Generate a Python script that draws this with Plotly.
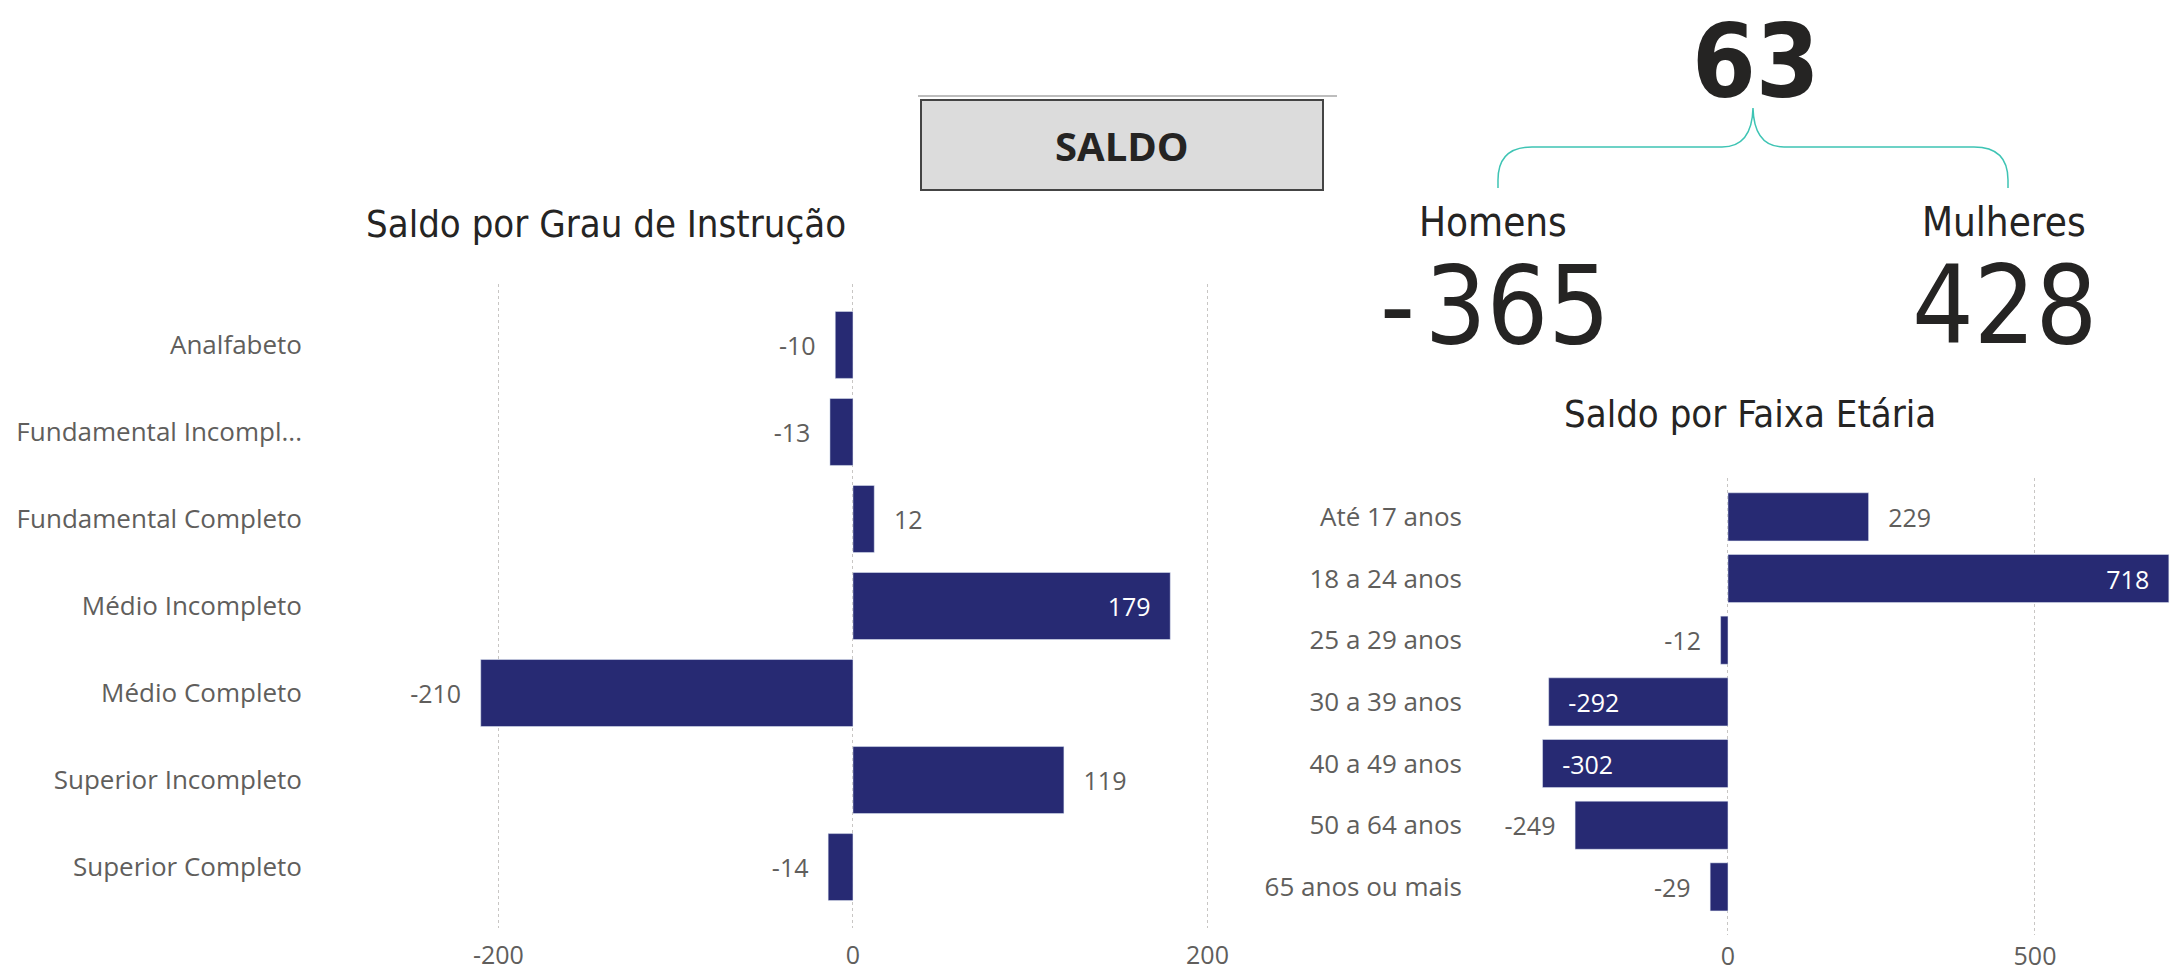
import plotly.graph_objects as go

W, H = 2171, 974

# ---- data ----
instr_cats = ["Analfabeto", "Fundamental Incompl...", "Fundamental Completo", "Médio Incompleto",
              "Médio Completo", "Superior Incompleto", "Superior Completo"]
instr_vals = [-10, -13, 12, 179, -210, 119, -14]
instr_textpos = ["outside", "outside", "outside", "inside", "outside", "outside", "outside"]
instr_tickvals = [-200, 0, 200]
instr_ticktext = ["-200", "0", "200"]

idade_cats = ["Até 17 anos", "18 a 24 anos", "25 a 29 anos", "30 a 39 anos",
              "40 a 49 anos", "50 a 64 anos", "65 anos ou mais"]
idade_vals = [229, 718, -12, -292, -302, -249, -29]
idade_textpos = ["outside", "inside", "outside", "inside", "inside", "outside", "outside"]
idade_tickvals = [0, 500]
idade_ticktext = ["0", "500"]

saldo_total = 63
saldo_homens = -365
saldo_mulheres = 428

BAR = "#272A73"
GRAY = "#605E5C"
DARK = "#252423"
TEAL = "#3EC4B4"
TITLE_FONT = "Liberation Sans Narrow, DejaVu Sans Condensed, Roboto, sans-serif"
BODY_FONT = "Segoe UI, Open Sans, sans-serif"
LBL = 25
CAT = 26


def px(x):
    return x / W


def py(y):
    return 1 - y / H


def label(v, pos):
    s = str(v)
    pad = "\u2002\u2009"
    if pos == "outside":
        return pad + s if v > 0 else s + pad
    return s + pad if v > 0 else pad + s


def big(v):
    s = str(v)
    return s.replace("-", "-\u200a")


fig = go.Figure()

fig.add_trace(go.Bar(
    x=instr_vals, y=instr_cats, orientation="h", marker_color=BAR, width=0.77,
    text=[label(v, p) for v, p in zip(instr_vals, instr_textpos)], textposition=instr_textpos,
    insidetextanchor="end",
    insidetextfont=dict(color="white", size=LBL, family=BODY_FONT),
    outsidetextfont=dict(color=GRAY, size=LBL, family=BODY_FONT),
    cliponaxis=False, xaxis="x", yaxis="y", hoverinfo="skip"))

fig.add_trace(go.Bar(
    x=idade_vals, y=idade_cats, orientation="h", marker_color=BAR, width=0.78,
    text=[label(v, p) for v, p in zip(idade_vals, idade_textpos)], textposition=idade_textpos,
    insidetextanchor="end",
    insidetextfont=dict(color="white", size=LBL, family=BODY_FONT),
    outsidetextfont=dict(color=GRAY, size=LBL, family=BODY_FONT),
    cliponaxis=False, xaxis="x2", yaxis="y2", hoverinfo="skip"))

axis_common = dict(showgrid=True, griddash="dot", gridcolor="#C8C6C4", gridwidth=1,
                   zeroline=False, showline=False, ticks="", tickmode="array",
                   tickfont=dict(color=GRAY, size=LBL, family=BODY_FONT))
cat_common = dict(type="category", automargin=False, showgrid=False, zeroline=False,
                  ticks="", ticklabelstandoff=12,
                  tickfont=dict(color=GRAY, size=CAT, family=BODY_FONT))

fig.update_layout(
    width=W, height=H, margin=dict(l=0, r=0, t=0, b=0),
    paper_bgcolor="white", plot_bgcolor="white", showlegend=False,
    xaxis=dict(domain=[px(315), px(1230)], range=[-303.5, 212.7],
               tickvals=instr_tickvals, ticktext=instr_ticktext,
               anchor="y", automargin=False, ticklabelstandoff=10, **axis_common),
    yaxis=dict(domain=[py(928), py(284)], range=[6.7, -0.7], anchor="x", **cat_common),
    xaxis2=dict(domain=[px(1475), 1.0], range=[-412, 721.5],
                tickvals=idade_tickvals, ticktext=idade_ticktext,
                anchor="y2", automargin=False, ticklabelstandoff=4, **axis_common),
    yaxis2=dict(domain=[py(935), py(478)], range=[6.78, -0.63], anchor="x2", **cat_common),
)

shapes = []
# SALDO button
shapes.append(dict(type="line", xref="paper", yref="paper", x0=px(918), x1=px(1337),
                   y0=py(96), y1=py(96), line=dict(color="#BDBDBD", width=2)))
shapes.append(dict(type="rect", xref="paper", yref="paper", x0=px(921), x1=px(1323),
                   y0=py(190), y1=py(100), fillcolor="#DCDCDC",
                   line=dict(color="#444444", width=2)))


# brace (decoration) in paper coords
def P(x, y):
    return f"{px(x):.5f},{py(y):.5f}"


brace = ("M " + P(1498, 188) + " L " + P(1498, 180) +
         " Q " + P(1498, 147) + " " + P(1532, 147) +
         " L " + P(1722, 147) +
         " Q " + P(1752, 147) + " " + P(1753, 108) +
         " Q " + P(1754, 147) + " " + P(1784, 147) +
         " L " + P(1974, 147) +
         " Q " + P(2008, 147) + " " + P(2008, 180) +
         " L " + P(2008, 188))
shapes.append(dict(type="path", xref="paper", yref="paper", path=brace,
                   line=dict(color=TEAL, width=1.5)))
fig.update_layout(shapes=shapes)

ann = []


def add_text(txt, x, y, size, color, family, bold=False, yanchor="middle"):
    ann.append(dict(text=f"<b>{txt}</b>" if bold else txt, x=px(x), y=py(y),
                    xref="paper", yref="paper", showarrow=False,
                    xanchor="center", yanchor=yanchor,
                    font=dict(size=size, color=color, family=family)))


add_text("SALDO", 1122, 146, 40, DARK, "Segoe UI, Open Sans, sans-serif", bold=True)
add_text("Saldo por Grau de Instrução", 606, 224, 38, DARK, TITLE_FONT)
add_text("Saldo por Faixa Etária", 1750, 414, 38, DARK, TITLE_FONT)
add_text(str(saldo_total), 1756, 0, 102, DARK, TITLE_FONT, bold=True, yanchor="top")
add_text("Homens", 1493, 222, 40, DARK, TITLE_FONT)
add_text("Mulheres", 2004, 222, 40, DARK, TITLE_FONT)
add_text(big(saldo_homens), 1495, 306, 108, DARK, TITLE_FONT)
add_text(big(saldo_mulheres), 2004, 306, 108, DARK, TITLE_FONT)
fig.update_layout(annotations=ann)

fig.write_html("out.html", config={"displayModeBar": False},
               post_script="document.body.style.margin='0';document.body.style.overflow='hidden';")
